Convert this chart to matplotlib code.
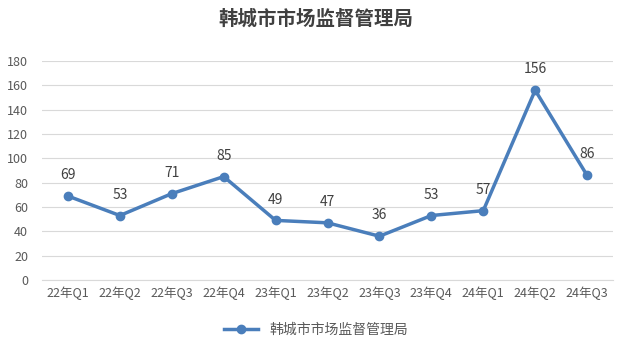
import matplotlib.pyplot as plt

plt.rcParams['font.family'] = ['Noto Sans CJK SC', 'DejaVu Sans']

quarters = ['22年Q1', '22年Q2', '22年Q3', '22年Q4', '23年Q1', '23年Q2',
            '23年Q3', '23年Q4', '24年Q1', '24年Q2', '24年Q3']
values = [69, 53, 71, 85, 49, 47, 36, 53, 57, 156, 86]
series_name = '韩城市市场监督管理局'

fig = plt.figure(figsize=(6.32, 3.57), dpi=100)
ax = fig.add_axes([0.0665, 0.2157, 0.9035, 0.6133])

x = range(len(values))
ax.plot(x, values, color='#4A7EBB', linewidth=2.5, marker='o',
        markersize=6, label=series_name, zorder=3)
for i, v in zip(x, values):
    ax.annotate(str(v), (i, v), xytext=(0, 10), textcoords='offset points',
                ha='center', va='bottom', fontsize=10, color='#404040')

ax.set_xlim(-0.5, len(values) - 0.5)
ax.set_ylim(0, 180)
ax.set_yticks(range(0, 181, 20))
ax.set_xticks(list(x))
ax.set_xticklabels(quarters)
ax.grid(axis='y', color='#D9D9D9', linewidth=0.8)
ax.set_axisbelow(True)
for s in ['top', 'right', 'left']:
    ax.spines[s].set_visible(False)
ax.spines['bottom'].set_color('#D9D9D9')
ax.tick_params(axis='both', length=0, colors='#595959', labelsize=9)
ax.tick_params(axis='y', pad=10)
ax.tick_params(axis='x', pad=5)

fig.suptitle(series_name, x=0.5, y=0.975, fontsize=14, fontweight='bold',
             color='#404040')

fig.legend(loc='center', bbox_to_anchor=(0.5, 0.075), frameon=False,
           fontsize=10, labelcolor='#595959', handlelength=2.5)

plt.savefig('out.png', dpi=100)
plt.close()
